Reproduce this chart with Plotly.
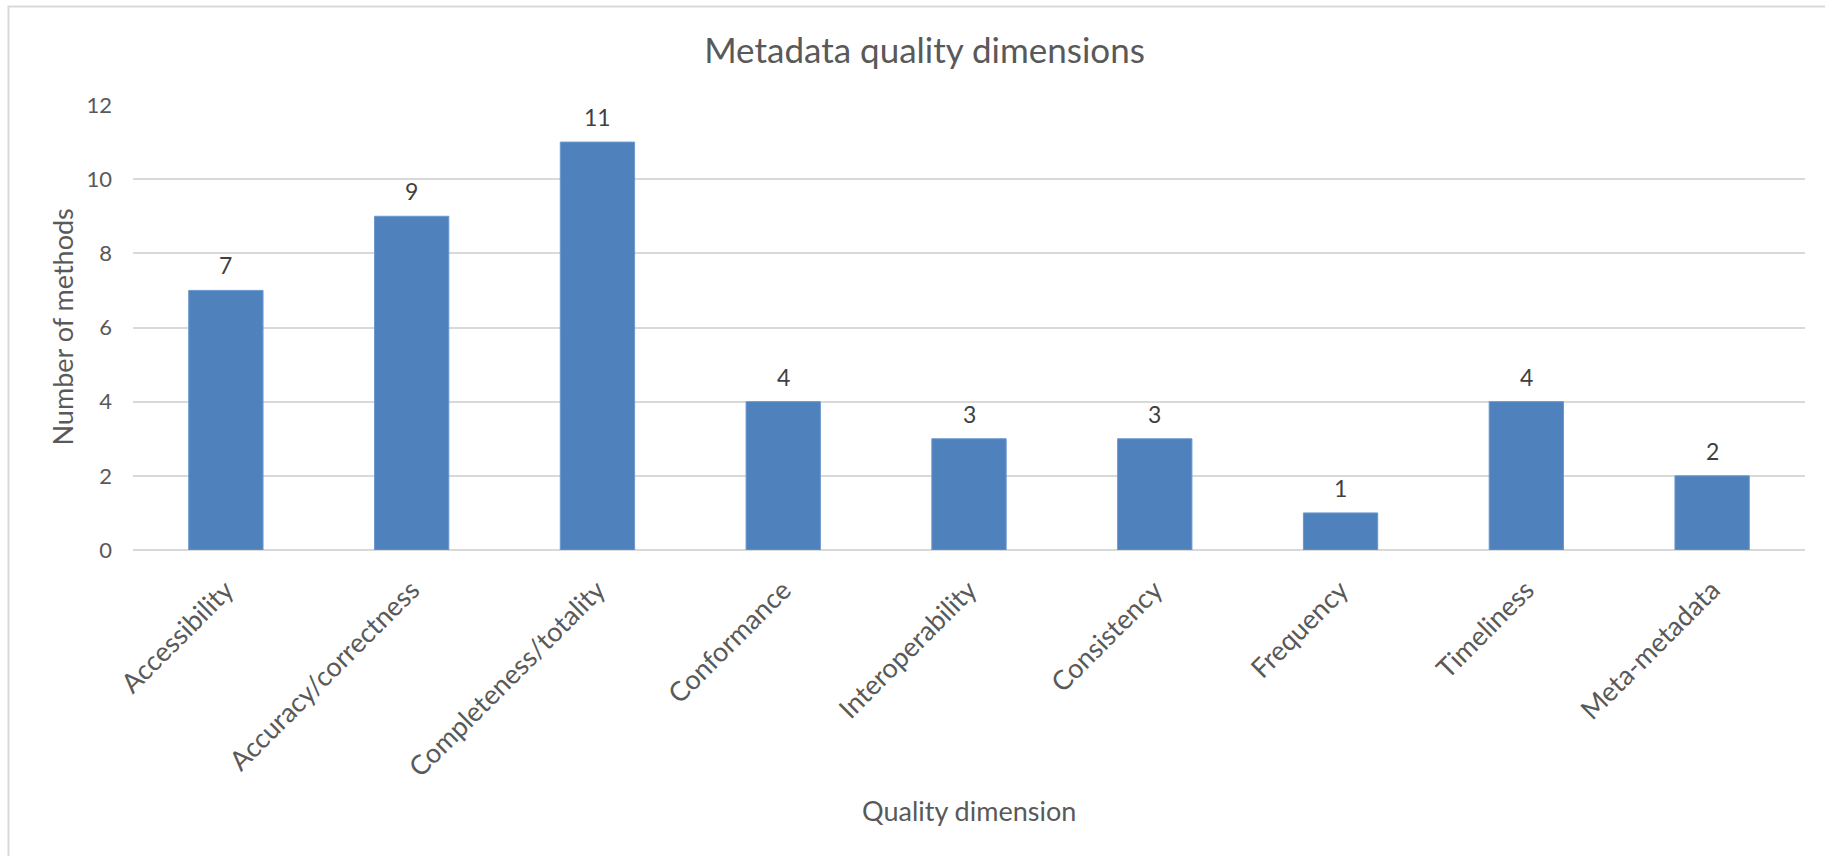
import plotly.graph_objects as go

# Quality dimensions and how many methods address each one
dimensions = [
    "Accessibility",
    "Accuracy/correctness",
    "Completeness/totality",
    "Conformance",
    "Interoperability",
    "Consistency",
    "Frequency",
    "Timeliness",
    "Meta-metadata",
]
method_counts = [7, 9, 11, 4, 3, 3, 1, 4, 2]
y_ticks = [0, 2, 4, 6, 8, 10, 12]

FONT = "Lato"
TEXT = "#595959"
LABEL = "#404040"
GRID = "#D9D9D9"
BAR = "#4F81BD"

W, H = 1825, 856
L, R, T, B = 133, 20, 105, 306

fig = go.Figure(
    go.Bar(
        x=dimensions,
        y=method_counts,
        marker=dict(color=BAR, line=dict(color="#6A98CF", width=1)),
        hoverinfo="x+y",
    )
)

# value labels above each bar
for name, val in zip(dimensions, method_counts):
    fig.add_annotation(
        x=name, y=val, text=str(val), showarrow=False,
        xref="x", yref="y", yanchor="middle", yshift=25,
        font=dict(family=FONT, size=23, color=LABEL),
    )

plot_w = W - L - R
plot_h = H - T - B

# axis titles
fig.add_annotation(
    text="Number of methods", textangle=-90, showarrow=False,
    xref="paper", yref="paper", x=(62 - L) / plot_w, y=0.5,
    xanchor="center", yanchor="middle",
    font=dict(family=FONT, size=27, color=TEXT),
)
fig.add_annotation(
    text="Quality dimension", showarrow=False,
    xref="paper", yref="paper", x=0.5, y=-(810 - (T + plot_h)) / plot_h,
    xanchor="center", yanchor="middle",
    font=dict(family=FONT, size=27, color=TEXT),
)

# chart-area frame
fig.add_shape(
    type="rect", xref="paper", yref="paper",
    x0=(8.5 - L) / plot_w, x1=(W + 10 - L) / plot_w,
    y0=-(H + 10 - (T + plot_h)) / plot_h, y1=1 + (T - 6.5) / plot_h,
    line=dict(color=GRID, width=2), fillcolor="rgba(0,0,0,0)", layer="below",
)

fig.update_layout(
    width=W, height=H,
    margin=dict(l=L, r=R, t=T, b=B, pad=0),
    paper_bgcolor="white", plot_bgcolor="white",
    bargap=0.6,
    showlegend=False,
    title=dict(
        text="Metadata quality dimensions",
        x=924.5 / W, xanchor="center", xref="container",
        y=1 - 51 / H, yanchor="middle", yref="container",
        font=dict(family=FONT, size=35, color=TEXT),
    ),
    font=dict(family=FONT, color=TEXT),
)

fig.update_xaxes(
    tickangle=-45,
    tickfont=dict(family=FONT, size=27, color=TEXT),
    showgrid=False, showline=False, ticks="",
    ticklabelstandoff=18,
)
fig.update_yaxes(
    range=[0, 12], tickvals=y_ticks,
    tickfont=dict(family=FONT, size=22, color=TEXT),
    showgrid=True, gridcolor=GRID, gridwidth=2,
    zeroline=True, zerolinecolor=GRID, zerolinewidth=2,
    showline=False, ticks="",
    ticklabelstandoff=20,
)

fig.write_html("out.html")
